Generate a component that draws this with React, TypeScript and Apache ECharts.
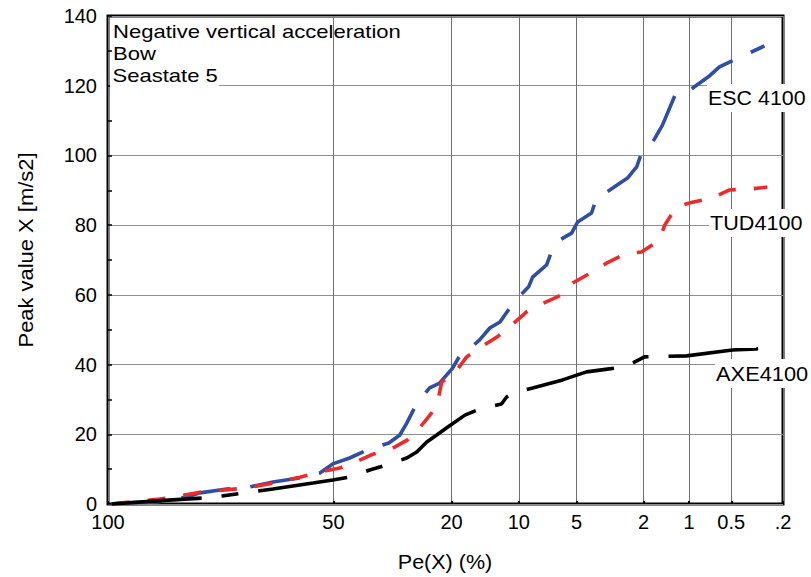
import React, { useEffect, useRef } from "react";
import * as echarts from "echarts";

// Exceedance probability scale (Rayleigh paper): tick probabilities in %
const TICK_PE = [100, 50, 20, 10, 5, 2, 1, 0.5, 0.2];
const TICK_LABELS = ["100", "50", "20", "10", "5", "2", "1", "0.5", ".2"];
const Y_MIN = 0;
const Y_MAX = 140;
const Y_STEP = 20;

const ESC_PE = [99.98, 99.8, 96.8, 91.9, 89.1, 82.5, 76.0, 69.0, 60.5, 54.2, 50.2, 45.1, 39.3, 34.1, 31.3, 29.6, 27.3, 24.4, 22.3, 19.8, 18.5, 17.6, 15.2, 13.7, 12.3, 10.5, 8.95, 8.55, 7.25, 6.58, 5.33, 4.94, 4.12, 3.86, 3.56, 2.74, 2.52, 2.21, 2.06, 1.75, 1.51, 1.22, 0.962, 0.72, 0.61, 0.515, 0.28];
const ESC_VAL = [0, 0.3, 0.6, 2.0, 3.2, 4.3, 4.9, 6.3, 7.5, 8.9, 11.5, 13.2, 15.8, 17.5, 19.8, 23.2, 28.7, 33.3, 34.7, 39.0, 42.5, 43.3, 47.1, 50.5, 52.2, 58.2, 62.3, 65.1, 68.6, 74.9, 77.7, 80.9, 83.5, 87.8, 88.6, 92.4, 93.5, 96.7, 100.7, 103.8, 108.7, 118.2, 119.1, 122.8, 125.4, 126.8, 131.4];

const TUD_PE = [99.98, 99.8, 96.4, 94.4, 89.1, 76.9, 69.0, 60.5, 54.2, 48.1, 42.7, 38.4, 33.9, 29.4, 27.0, 24.0, 22.7, 21.9, 19.4, 17.3, 15.2, 12.7, 11.1, 9.16, 7.88, 6.04, 5.26, 4.06, 3.37, 2.63, 2.06, 1.58, 1.46, 1.22, 0.947, 0.685, 0.515, 0.353, 0.266];
const TUD_VAL = [0, 0.3, 1.4, 2.0, 3.4, 4.6, 6.0, 7.7, 9.2, 10.3, 12.3, 14.3, 15.5, 18.4, 21.2, 26.1, 29.3, 35.0, 37.6, 42.2, 44.8, 47.9, 50.8, 55.1, 57.1, 60.0, 63.4, 66.6, 69.1, 71.7, 72.3, 75.7, 80.0, 85.2, 86.6, 87.8, 90.1, 90.4, 90.9];

const AXE_PE = [99.98, 96.8, 92.2, 88.4, 83.8, 69.0, 56.4, 50.2, 45.1, 39.3, 34.65, 29.6, 27.25, 25.0, 22.9, 20.7, 17.6, 15.2, 12.1, 11.45, 10.7, 8.55, 5.97, 4.4, 3.33, 2.63, 1.97, 1.04, 0.49, 0.323, 0.242];
const AXE_VAL = [0, 0.9, 1.4, 1.7, 2.3, 4.3, 6.0, 6.9, 7.75, 9.75, 11.2, 13.2, 14.9, 17.8, 19.8, 22.1, 25.5, 27.25, 28.7, 30.7, 31.8, 33.3, 35.6, 37.9, 38.7, 39.3, 42.2, 42.5, 44.2, 44.5, 44.75];

const SERIES_NAMES = ["ESC 4100", "TUD4100", "AXE4100"];
const LEGEND_LINES = ["Negative vertical acceleration", "Bow", "Seastate 5"];

// Rayleigh probability transform
const toT = (pe: number) => Math.sqrt(-Math.log(pe / 100));

export default function App() {
  const ref = useRef<HTMLDivElement>(null);

  useEffect(() => {
    if (!ref.current) return;
    const chart = echarts.init(ref.current, null, { renderer: "svg" });
    const tickT = TICK_PE.map(toT);
    const xMax = toT(TICK_PE[TICK_PE.length - 1]);
    const fam = "Arial, 'Liberation Sans', Helvetica, sans-serif";
    const pairs = (pe: number[], v: number[]) => pe.map((p, i) => [toT(p), v[i]]);

    const mkSeries = (name: string, data: number[][], color: string, dash: number[]) => ({
      name,
      type: "line",
      data,
      showSymbol: false,
      symbol: "none",
      clip: true,
      lineStyle: { color, width: 3.6, type: dash, cap: "butt" },
      z: 3,
    });

    const textEl = (
      text: string,
      x: number,
      y: number,
      size: number,
      scaleX: number,
      opts: any = {}
    ) => ({
      type: "text",
      x,
      y,
      z: 100,
      scaleX,
      rotation: opts.rotation || 0,
      style: {
        text,
        fontSize: size,
        fontFamily: fam,
        fill: "#000",
        align: opts.align || "left",
        verticalAlign: "middle",
        backgroundColor: opts.bg,
        padding: opts.padding,
      },
    });

    chart.setOption({
      animation: false,
      grid: {
        left: 108,
        right: 28,
        top: 16,
        bottom: 73,
        show: true,
        borderColor: "#000",
        borderWidth: 3,
        backgroundColor: "transparent",
      },
      xAxis: {
        type: "value",
        min: 0,
        max: xMax,
        axisLine: { show: false },
        axisTick: {
          show: true,
          inside: true,
          length: 3,
          customValues: tickT,
          lineStyle: { color: "#000", width: 2 },
        },
        axisLabel: {
          customValues: tickT,
          formatter: (v: number) => {
            const i = tickT.findIndex((t) => Math.abs(t - v) < 1e-6);
            return i >= 0 ? TICK_LABELS[i] : "";
          },
          fontSize: 20,
          color: "#000",
          fontFamily: fam,
          margin: 8,
        },
        splitLine: { show: true, lineStyle: { color: "#707070", width: 1 } },
      },
      yAxis: {
        type: "value",
        min: Y_MIN,
        max: Y_MAX,
        interval: Y_STEP,
        axisLine: { show: false },
        axisTick: { show: true, inside: true, length: 4, lineStyle: { color: "#000", width: 1.5 } },
        minorTick: { show: true, splitNumber: 2, length: 4, lineStyle: { color: "#000", width: 1.5 } },
        axisLabel: { fontSize: 20, color: "#000", fontFamily: fam, margin: 11 },
        splitLine: { show: true, lineStyle: { color: "#909090", width: 1.2 } },
      },
      series: [
        mkSeries(SERIES_NAMES[0], pairs(ESC_PE, ESC_VAL), "#2f4fa6", [50, 20]),
        mkSeries(SERIES_NAMES[1], pairs(TUD_PE, TUD_VAL), "#ee2a2a", [18, 18]),
        mkSeries(SERIES_NAMES[2], pairs(AXE_PE, AXE_VAL), "#000000", [90, 20, 17, 20]),
      ],
      graphic: [
        textEl(LEGEND_LINES[0], 113, 31.5, 17.5, 1.26),
        textEl(LEGEND_LINES[1], 113, 53.7, 17.5, 1.26),
        textEl(LEGEND_LINES[2], 110, 75.8, 17.5, 1.26, { bg: "#fff", padding: [1, 1, 4, 2] }),
        textEl(SERIES_NAMES[0], 707, 98, 20, 1.07, { bg: "#fff", padding: [4, 1, 4, 1] }),
        textEl(SERIES_NAMES[1], 709, 223, 20, 1.08, { bg: "#fff", padding: [4, 1, 4, 1] }),
        textEl(SERIES_NAMES[2], 715, 373.5, 20, 1.09, { bg: "#fff", padding: [5, 1, 4, 1] }),
        textEl("Pe(X) (%)", 445, 562, 20.5, 1.05, { align: "center" }),
        textEl("Peak value X [m/s2]", 26, 250, 20.5, 1.07, { align: "center", rotation: Math.PI / 2 }),
      ],
    });

    return () => chart.dispose();
  }, []);

  return (
    <div
      ref={ref}
      style={{ position: "fixed", left: 0, top: 0, width: 811, height: 577, background: "#fff" }}
    />
  );
}
